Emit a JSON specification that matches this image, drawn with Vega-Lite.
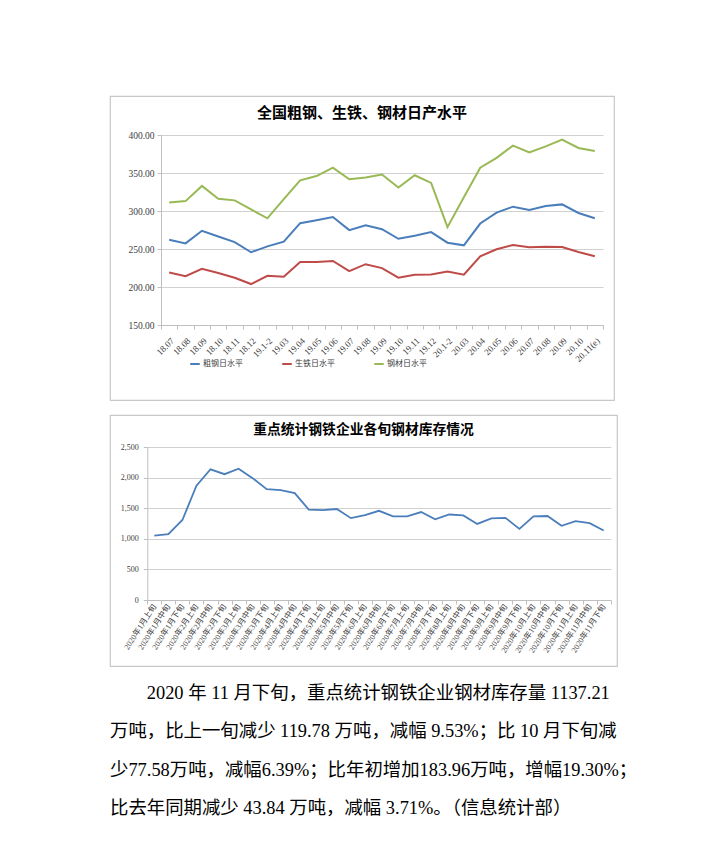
{
  "$schema": "https://vega.github.io/schema/vega-lite/v6.json",
  "background": "white",
  "padding": {"left": 106, "top": 95, "right": 0, "bottom": 0},
  "bounds": "flush",
  "spacing": 15,
  "config": {
    "view": {"stroke": "#c8c8c8", "strokeWidth": 1.2},
    "axis": {
      "domainColor": "#bfbfbf",
      "tickColor": "#bfbfbf",
      "gridColor": "#d0d0d0",
      "labelColor": "#404040",
      "labelFont": "Liberation Serif, Noto Sans CJK SC",
      "tickSize": 4,
      "labelOverlap": false,
      "labelBound": false
    }
  },
  "vconcat": [
    {
      "width": 504,
      "height": 304,
      "title": {"text": "全国粗钢、生铁、钢材日产水平", "font": "Noto Sans CJK SC", "fontSize": 15, "fontWeight": "bold", "color": "#000000", "anchor": "middle", "frame": "group", "offset": -32, "baseline": "middle"},
      "data": {"values": [
        {"month": "18.07", "series": "粗钢日水平", "value": 262.2},
        {"month": "18.08", "series": "粗钢日水平", "value": 257.4},
        {"month": "18.09", "series": "粗钢日水平", "value": 274.0},
        {"month": "18.10", "series": "粗钢日水平", "value": 266.5},
        {"month": "18.11", "series": "粗钢日水平", "value": 259.0},
        {"month": "18.12", "series": "粗钢日水平", "value": 245.7},
        {"month": "19.1-2", "series": "粗钢日水平", "value": 253.5},
        {"month": "19.03", "series": "粗钢日水平", "value": 259.6},
        {"month": "19.04", "series": "粗钢日水平", "value": 284.0},
        {"month": "19.05", "series": "粗钢日水平", "value": 287.8},
        {"month": "19.06", "series": "粗钢日水平", "value": 292.0},
        {"month": "19.07", "series": "粗钢日水平", "value": 274.8},
        {"month": "19.08", "series": "粗钢日水平", "value": 281.3},
        {"month": "19.09", "series": "粗钢日水平", "value": 276.0},
        {"month": "19.10", "series": "粗钢日水平", "value": 263.5},
        {"month": "19.11", "series": "粗钢日水平", "value": 267.4},
        {"month": "19.12", "series": "粗钢日水平", "value": 272.2},
        {"month": "20.1-2", "series": "粗钢日水平", "value": 258.3},
        {"month": "20.03", "series": "粗钢日水平", "value": 254.8},
        {"month": "20.04", "series": "粗钢日水平", "value": 283.5},
        {"month": "20.05", "series": "粗钢日水平", "value": 297.8},
        {"month": "20.06", "series": "粗钢日水平", "value": 305.7},
        {"month": "20.07", "series": "粗钢日水平", "value": 301.3},
        {"month": "20.08", "series": "粗钢日水平", "value": 306.5},
        {"month": "20.09", "series": "粗钢日水平", "value": 308.7},
        {"month": "20.10", "series": "粗钢日水平", "value": 297.4},
        {"month": "20.11(e)", "series": "粗钢日水平", "value": 290.4},
        {"month": "18.07", "series": "生铁日水平", "value": 219.1},
        {"month": "18.08", "series": "生铁日水平", "value": 214.3},
        {"month": "18.09", "series": "生铁日水平", "value": 223.9},
        {"month": "18.10", "series": "生铁日水平", "value": 218.3},
        {"month": "18.11", "series": "生铁日水平", "value": 212.2},
        {"month": "18.12", "series": "生铁日水平", "value": 203.9},
        {"month": "19.1-2", "series": "生铁日水平", "value": 214.8},
        {"month": "19.03", "series": "生铁日水平", "value": 213.5},
        {"month": "19.04", "series": "生铁日水平", "value": 233.0},
        {"month": "19.05", "series": "生铁日水平", "value": 233.0},
        {"month": "19.06", "series": "生铁日水平", "value": 234.3},
        {"month": "19.07", "series": "生铁日水平", "value": 220.9},
        {"month": "19.08", "series": "生铁日水平", "value": 230.0},
        {"month": "19.09", "series": "生铁日水平", "value": 224.8},
        {"month": "19.10", "series": "生铁日水平", "value": 212.2},
        {"month": "19.11", "series": "生铁日水平", "value": 216.1},
        {"month": "19.12", "series": "生铁日水平", "value": 216.5},
        {"month": "20.1-2", "series": "生铁日水平", "value": 220.4},
        {"month": "20.03", "series": "生铁日水平", "value": 216.1},
        {"month": "20.04", "series": "生铁日水平", "value": 240.4},
        {"month": "20.05", "series": "生铁日水平", "value": 249.6},
        {"month": "20.06", "series": "生铁日水平", "value": 255.2},
        {"month": "20.07", "series": "生铁日水平", "value": 252.2},
        {"month": "20.08", "series": "生铁日水平", "value": 253.0},
        {"month": "20.09", "series": "生铁日水平", "value": 252.6},
        {"month": "20.10", "series": "生铁日水平", "value": 246.0},
        {"month": "20.11(e)", "series": "生铁日水平", "value": 240.4},
        {"month": "18.07", "series": "钢材日水平", "value": 311.3},
        {"month": "18.08", "series": "钢材日水平", "value": 313.0},
        {"month": "18.09", "series": "钢材日水平", "value": 333.0},
        {"month": "18.10", "series": "钢材日水平", "value": 316.0},
        {"month": "18.11", "series": "钢材日水平", "value": 314.0},
        {"month": "18.12", "series": "钢材日水平", "value": 302.0},
        {"month": "19.1-2", "series": "钢材日水平", "value": 290.4},
        {"month": "19.03", "series": "钢材日水平", "value": 315.5},
        {"month": "19.04", "series": "钢材日水平", "value": 340.4},
        {"month": "19.05", "series": "钢材日水平", "value": 346.0},
        {"month": "19.06", "series": "钢材日水平", "value": 357.0},
        {"month": "19.07", "series": "钢材日水平", "value": 341.7},
        {"month": "19.08", "series": "钢材日水平", "value": 344.0},
        {"month": "19.09", "series": "钢材日水平", "value": 348.0},
        {"month": "19.10", "series": "钢材日水平", "value": 331.0},
        {"month": "19.11", "series": "钢材日水平", "value": 347.0},
        {"month": "19.12", "series": "钢材日水平", "value": 337.0},
        {"month": "20.1-2", "series": "钢材日水平", "value": 278.7},
        {"month": "20.03", "series": "钢材日水平", "value": 318.0},
        {"month": "20.04", "series": "钢材日水平", "value": 357.0},
        {"month": "20.05", "series": "钢材日水平", "value": 370.0},
        {"month": "20.06", "series": "钢材日水平", "value": 386.0},
        {"month": "20.07", "series": "钢材日水平", "value": 377.0},
        {"month": "20.08", "series": "钢材日水平", "value": 385.0},
        {"month": "20.09", "series": "钢材日水平", "value": 394.0},
        {"month": "20.10", "series": "钢材日水平", "value": 383.0},
        {"month": "20.11(e)", "series": "钢材日水平", "value": 379.0}
      ]},
      "mark": {"type": "line", "strokeWidth": 2},
      "encoding": {
        "x": {
          "field": "month", "type": "ordinal", "sort": null, "bandPosition": 0.5,
          "scale": {"type": "band", "range": [51, 493], "paddingInner": 0, "paddingOuter": 0},
          "axis": {"title": null, "offset": -75, "labelAngle": -45, "tickBand": "extent", "labelFontSize": 9, "labelPadding": 7, "grid": false}
        },
        "y": {
          "field": "value", "type": "quantitative",
          "scale": {"domain": [150, 400], "range": [229, 39], "nice": false, "zero": false},
          "axis": {"title": null, "offset": -51, "values": [150, 200, 250, 300, 350, 400], "format": ".2f", "grid": true, "labelFontSize": 9.5, "labelPadding": 3}
        },
        "color": {
          "field": "series", "type": "nominal", "sort": null,
          "scale": {"domain": ["粗钢日水平", "生铁日水平", "钢材日水平"], "range": ["#4A7EBB", "#BE4B48", "#98B954"]},
          "legend": {"orient": "none", "legendX": 79, "legendY": 262, "direction": "horizontal", "title": null, "symbolType": "stroke", "symbolStrokeWidth": 2, "symbolSize": 90, "labelFontSize": 8, "labelFont": "Liberation Serif, Noto Sans CJK SC", "labelColor": "#404040", "columnPadding": 35, "labelOffset": 2, "padding": 0}
        }
      }
    },
    {
      "width": 507,
      "height": 251,
      "title": {"text": "重点统计钢铁企业各旬钢材库存情况", "font": "Noto Sans CJK SC", "fontSize": 13.8, "fontWeight": "bold", "color": "#000000", "anchor": "middle", "frame": "group", "offset": -29, "baseline": "middle"},
      "data": {"values": [
        {"period": "2020年1月上旬", "stock": 1055},
        {"period": "2020年1月中旬", "stock": 1080},
        {"period": "2020年1月下旬", "stock": 1310},
        {"period": "2020年2月上旬", "stock": 1870},
        {"period": "2020年2月中旬", "stock": 2140},
        {"period": "2020年2月下旬", "stock": 2060},
        {"period": "2020年3月上旬", "stock": 2150},
        {"period": "2020年3月中旬", "stock": 1995},
        {"period": "2020年3月下旬", "stock": 1815},
        {"period": "2020年4月上旬", "stock": 1800},
        {"period": "2020年4月中旬", "stock": 1750},
        {"period": "2020年4月下旬", "stock": 1480},
        {"period": "2020年5月上旬", "stock": 1470},
        {"period": "2020年5月中旬", "stock": 1490},
        {"period": "2020年5月下旬", "stock": 1340},
        {"period": "2020年6月上旬", "stock": 1390},
        {"period": "2020年6月中旬", "stock": 1460},
        {"period": "2020年6月下旬", "stock": 1370},
        {"period": "2020年7月上旬", "stock": 1370},
        {"period": "2020年7月中旬", "stock": 1440},
        {"period": "2020年7月下旬", "stock": 1320},
        {"period": "2020年8月上旬", "stock": 1400},
        {"period": "2020年8月中旬", "stock": 1385},
        {"period": "2020年8月下旬", "stock": 1245},
        {"period": "2020年9月上旬", "stock": 1335},
        {"period": "2020年9月中旬", "stock": 1345},
        {"period": "2020年9月下旬", "stock": 1165},
        {"period": "2020年10月上旬", "stock": 1370},
        {"period": "2020年10月中旬", "stock": 1375},
        {"period": "2020年10月下旬", "stock": 1215},
        {"period": "2020年11月上旬", "stock": 1290},
        {"period": "2020年11月中旬", "stock": 1257},
        {"period": "2020年11月下旬", "stock": 1137.21}
      ]},
      "mark": {"type": "line", "strokeWidth": 1.8, "color": "#4A7EBB"},
      "encoding": {
        "x": {
          "field": "period", "type": "ordinal", "sort": null, "bandPosition": 0.5,
          "scale": {"type": "band", "range": [37.3, 500.7], "paddingInner": 0, "paddingOuter": 0},
          "axis": {"title": null, "offset": -66, "labelAngle": -57, "tickBand": "extent", "labelFontSize": 8, "labelPadding": 1, "grid": false}
        },
        "y": {
          "field": "stock", "type": "quantitative",
          "scale": {"domain": [0, 2500], "range": [185, 32.3], "nice": false},
          "axis": {"title": null, "offset": -37.3, "values": [0, 500, 1000, 1500, 2000, 2500], "format": ",.0f", "grid": true, "labelFontSize": 8, "labelPadding": 5}
        }
      }
    },
    {
      "width": 504,
      "height": {"step": 38.5},
      "view": {"stroke": null},
      "data": {"values": [
        {"line": 1, "text": "\u200b\u3000\u30002020 年 11 月下旬，重点统计钢铁企业钢材库存量 1137.21"},
        {"line": 2, "text": "万吨，比上一旬减少 119.78 万吨，减幅 9.53%；比 10 月下旬减"},
        {"line": 3, "text": "少77.58万吨，减幅6.39%；比年初增加183.96万吨，增幅19.30%；"},
        {"line": 4, "text": "比去年同期减少 43.84 万吨，减幅 3.71%。（信息统计部）"}
      ]},
      "mark": {"type": "text", "align": "left", "baseline": "middle", "fontSize": 18.4, "font": "Liberation Serif, Noto Sans CJK SC", "color": "#000000"},
      "encoding": {
        "y": {"field": "line", "type": "ordinal", "axis": null, "scale": {"padding": 0.3}},
        "x": {"datum": 0, "type": "quantitative", "scale": {"domain": [0, 1]}, "axis": null},
        "text": {"field": "text"}
      }
    }
  ]
}
